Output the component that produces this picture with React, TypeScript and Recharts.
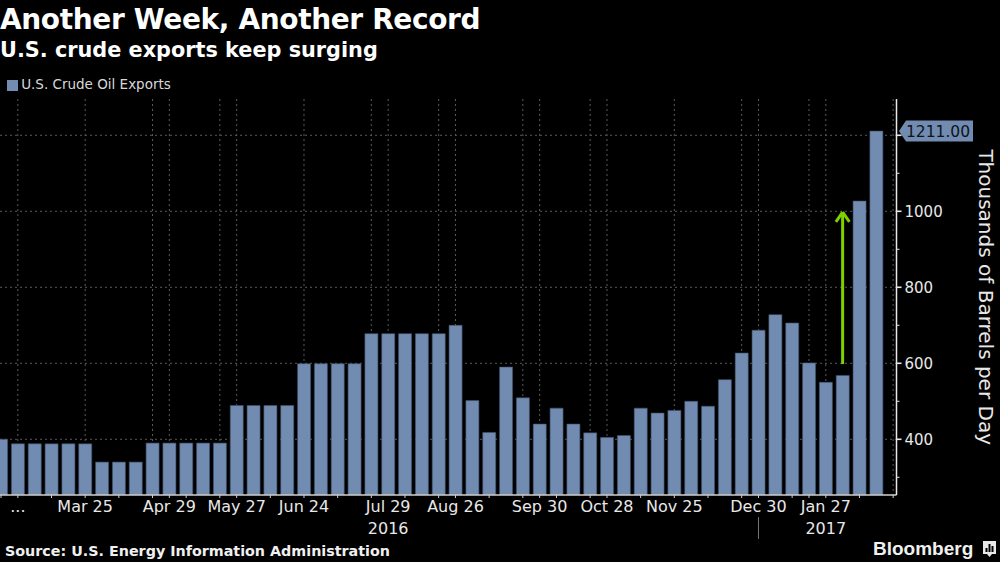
import React from "react";
import {
  BarChart,
  Bar,
  XAxis,
  YAxis,
  CartesianGrid,
  ReferenceLine,
  ReferenceDot,
  Legend,
} from "recharts";

const exportsKbd = [
  400, 388, 388, 388, 388, 388, 340, 340, 340, 390, 390, 390, 390, 390, 489, 489, 489, 489,
  599, 599, 599, 599, 678, 678, 678, 678, 678, 700, 502, 418, 590, 509, 440, 482, 440, 417,
  405, 410, 482, 469, 476, 500, 487, 557, 627, 687, 728, 706, 601, 550, 568, 1027, 1211,
];
const weekIndex = exportsKbd.map((_, i) => i);
const tableRows = weekIndex.map((i) => ({ week: i, value: exportsKbd[i] }));

const monthLabels: Record<number, string> = {
  1: "...",
  5: "Mar 25",
  10: "Apr 29",
  14: "May 27",
  18: "Jun 24",
  23: "Jul 29",
  27: "Aug 26",
  32: "Sep 30",
  36: "Oct 28",
  40: "Nov 25",
  45: "Dec 30",
  49: "Jan 27",
};
const yearLabels: Record<number, string> = { 23: "2016", 49: "2017" };
const yearDivider = 45;
const tickMarks = [
  0, 1, 3, 5, 7, 9, 10, 11, 13, 14, 16, 18, 20, 22, 24, 26, 27, 29, 31, 32, 33, 35, 36, 38, 40,
  42, 44, 45, 47, 48, 49, 51, 53,
];
const xTicks = [...tickMarks, 23];
const gridWeeks = [1, 5, 9, 10, 13, 14, 18, 22, 23, 26, 27, 31, 32, 35, 36, 40, 44, 45, 48, 49, 53];
const gridValues = [400, 600, 800, 1000, 1200];
const yTicks = [300, 400, 500, 600, 700, 800, 900, 1000, 1100, 1200];
const yLabelled = [400, 600, 800, 1000];
const lastValueLabel = "1211.00";

const BAR = "#728bb0";
const GREEN = "#7ed100";
const TEXT = "#e8e8e8";
const FONT = "'DejaVu Sans', sans-serif";

const XTick = (props: any) => {
  const { x, y, payload } = props;
  const v = payload.value as number;
  return (
    <g>
      {tickMarks.includes(v) && <line x1={x} x2={x} y1={y} y2={y + 3} stroke="#cfcfcf" strokeWidth={1} />}
      {monthLabels[v] && (
        <text x={x} y={y + 17} textAnchor="middle" fill={TEXT} fontSize={16} fontFamily={FONT}>
          {monthLabels[v]}
        </text>
      )}
      {yearLabels[v] && (
        <text x={x} y={y + 39} textAnchor="middle" fill={TEXT} fontSize={16} fontFamily={FONT}>
          {yearLabels[v]}
        </text>
      )}
      {v === yearDivider && <line x1={x} x2={x} y1={y + 22} y2={y + 44} stroke="#777" strokeWidth={1} />}
    </g>
  );
};

const YTick = (props: any) => {
  const { x, y, payload } = props;
  const v = payload.value as number;
  const major = v % 200 === 0;
  return (
    <g>
      <line x1={x} x2={x + (major ? 5 : 3)} y1={y} y2={y} stroke="#e8e8e8" strokeWidth={major ? 1.6 : 1} />
      {yLabelled.includes(v) && (
        <text x={x + 8} y={y + 5.5} fill={TEXT} fontSize={15} fontFamily={FONT}>
          {v}
        </text>
      )}
    </g>
  );
};

const ValueTag = (props: any) => {
  const { cx, cy } = props;
  const l = cx + 2.5;
  return (
    <g>
      <path
        d={`M${l} ${cy} L${l + 7} ${cy - 10.5} H${l + 74} V${cy + 10.5} H${l + 7} Z`}
        fill={BAR}
      />
      <text x={l + 7} y={cy + 5.7} fill="#0d1420" fontSize={15.5} fontFamily={FONT}>
        {lastValueLabel}
      </text>
    </g>
  );
};

const xMin = -0.06;
const xMax = 53.2;

export default function App() {
  return (
    <div
      style={{
        position: "absolute",
        left: 0,
        top: 0,
        width: 1000,
        height: 562,
        background: "#000",
        overflow: "hidden",
        fontFamily: FONT,
      }}
    >
      <div style={{ position: "absolute", left: 0, top: 2, color: "#fff", fontSize: 28, letterSpacing: -0.37, fontWeight: 700, whiteSpace: "nowrap", lineHeight: "36px" }}>
        Another Week, Another Record
      </div>
      <div style={{ position: "absolute", left: 0, top: 37, color: "#fff", fontSize: 20.8, fontWeight: 700, whiteSpace: "nowrap", lineHeight: "26px" }}>
        U.S. crude exports keep surging
      </div>
      <BarChart
        width={1000}
        height={562}
        data={tableRows}
        margin={{ top: 99, right: 0, bottom: 0, left: 0 }}
        style={{ position: "absolute", left: 0, top: 0 }}
      >
        <CartesianGrid
          stroke="#5a5a5a"
          strokeDasharray="2 3"
          horizontalValues={gridValues}
          verticalValues={gridWeeks}
        />
        <XAxis
          dataKey="week"
          type="number"
          domain={[xMin, xMax]}
          allowDataOverflow
          ticks={xTicks}
          interval={0}
          height={67}
          tickSize={0}
          tickMargin={0}
          tickLine={false}
          axisLine={{ stroke: "#d0d0d0", strokeWidth: 1.5 }}
          tick={<XTick />}
        />
        <YAxis
          orientation="right"
          domain={[253.4, 1295.5]}
          allowDataOverflow
          ticks={yTicks}
          interval={0}
          width={103.5}
          tickSize={0}
          tickMargin={0}
          tickLine={false}
          axisLine={{ stroke: "#e8e8e8", strokeWidth: 1.5 }}
          tick={<YTick />}
          label={{
            value: "Thousands of Barrels per Day",
            angle: 90,
            position: "insideRight",
            dx: -9,
            dy: 148,
            fill: TEXT,
            fontSize: 20,
            fontFamily: FONT,
          }}
        />
        <Legend
          verticalAlign="middle"
          align="center"
          layout="horizontal"
          iconType="square"
          iconSize={11}
          wrapperStyle={{ left: -6, top: 76, width: 200, fontSize: 13.5, fontFamily: FONT, textAlign: "left" }}
          formatter={(v: string) => <span style={{ color: "#d8d8d8", marginLeft: -1 }}>{v}</span>}
        />
        <Bar
          dataKey="value"
          name="U.S. Crude Oil Exports"
          fill={BAR}
          stroke="#42536e"
          strokeWidth={0.6}
          barSize={13}
          isAnimationActive={false}
        />
        <ReferenceLine segment={[{ x: 50, y: 598 }, { x: 50, y: 998 }]} stroke={GREEN} strokeWidth={3} />
        <ReferenceLine segment={[{ x: 49.6, y: 972 }, { x: 50, y: 998 }]} stroke={GREEN} strokeWidth={3} />
        <ReferenceLine segment={[{ x: 50.4, y: 972 }, { x: 50, y: 998 }]} stroke={GREEN} strokeWidth={3} />
        <ReferenceDot x={xMax} y={1211} r={0} ifOverflow="visible" shape={<ValueTag />} />
      </BarChart>
      <div style={{ position: "absolute", left: 5, top: 542, color: "#f0f0f0", fontSize: 14.3, fontWeight: 700, whiteSpace: "nowrap", lineHeight: "18px" }}>
        Source: U.S. Energy Information Administration
      </div>
      <div style={{ position: "absolute", left: 873, top: 537, color: "#f0f0f0", fontSize: 19, fontWeight: 700, fontFamily: "'Liberation Sans', sans-serif", whiteSpace: "nowrap", lineHeight: "24px" }}>
        Bloomberg
      </div>
      <svg style={{ position: "absolute", left: 982, top: 540 }} width={16} height={20} aria-hidden="true">
        <path d="M1 1 H14 V14 H10 L7.5 17 L5 14 H1 Z" fill="#e8e8e8" />
        <rect x={3.5} y={8} width={2} height={4} fill="#000" />
        <rect x={6.5} y={4} width={2} height={8} fill="#000" />
        <rect x={9.5} y={6} width={2} height={6} fill="#000" />
      </svg>
    </div>
  );
}
